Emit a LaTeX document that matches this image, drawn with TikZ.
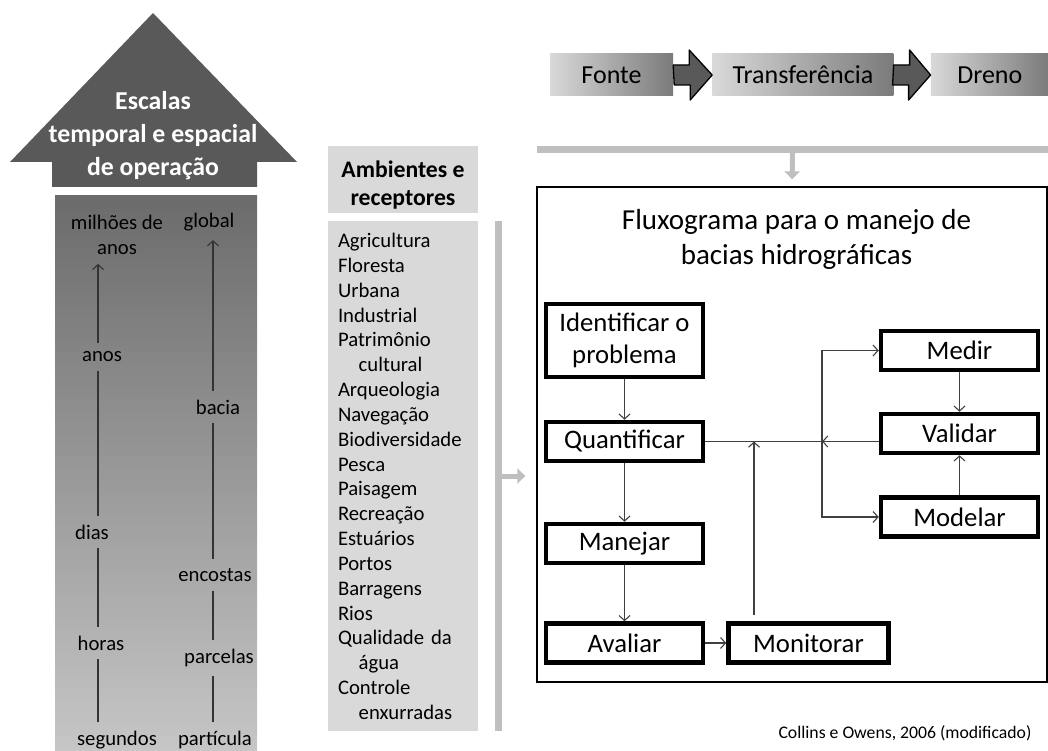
\documentclass[tikz,border=0pt]{standalone}
\usepackage{fontspec}
\setmainfont{Carlito}
\usepackage{tikz}
\usetikzlibrary{positioning}
\usetikzlibrary{calc,arrows.meta}
\definecolor{bargray}{HTML}{BFBFBF}
\definecolor{boxgray}{HTML}{D9D9D9}
\definecolor{darkfill}{HTML}{595959}
\definecolor{coltop}{HTML}{6B6B6B}
\definecolor{colbot}{HTML}{C6C6C6}
\tikzset{
  proc/.style = {draw, line width=4.5pt, minimum width=157pt, minimum height=39pt,
    inner sep=0pt, align=center, font=\fontsize{26.7}{32}\selectfont},
  link/.style = {draw=black!75, line width=1.1pt, -{Straight Barb[length=5pt,width=11pt]}},
  wire/.style = {draw=black!75, line width=1.1pt},
  lvl/.style = {inner xsep=2pt, inner ysep=9pt, align=center,
    font=\fontsize{20.7}{24.8}\selectfont},
  rung/.style = {draw=black!80, line width=1.1pt},
  flowbox/.style = {left color=boxgray, right color=black!52, minimum height=42pt,
    inner sep=0pt, font=\fontsize{26}{31}\selectfont},
  blockarrow/.style = {fill=darkfill, draw=black, line width=1.3pt, line join=round},
  grayarrow/.style = {draw=bargray, line width=5pt, -{Triangle[length=8pt,width=15pt]}},
}

\begin{document}
\begin{tikzpicture}[x=1pt, y=-1pt]
  \useasboundingbox (0,0) rectangle (1048,751);

  % scales column
  \shade[top color=coltop, bottom color=colbot] (55,196) rectangle (257,751);
  \fill[darkfill] (153,13) -- (297,162) -- (257,162) -- (257,187) -- (52,187)
    -- (52,162) -- (10,162) -- cycle;
  \node[text=white, align=center, font=\bfseries\fontsize{25.8}{33}\selectfont]
    (esc) at (153,136) {Escalas\\temporal e espacial\\de operação};

  \coordinate (cl) at (98,0);
  \coordinate (cr) at (213,0);
  \node[lvl] (M)  at (117,235) {milhões de\\anos};
  \node[lvl] (A)  at (102,357) {anos};
  \node[lvl] (Di) at (92,532) {dias};
  \node[lvl] (H)  at (101,643) {horas};
  \node[lvl] (Se) at (117,740) {segundos};
  \node[lvl] (G)  at (209,222) {global};
  \node[lvl] (B)  at (218,407) {bacia};
  \node[lvl] (E)  at (215,575) {encostas};
  \node[lvl] (P)  at (219,658) {parcelas};
  \node[lvl] (Pa) at (215,740) {partícula};
  \draw[rung, -{Straight Barb[length=5pt,width=11pt]}] (A.north -| cl) -- (M.south -| cl);
  \draw[rung] (A.south -| cl) -- (Di.north -| cl);
  \draw[rung] (Di.south -| cl) -- (H.north -| cl);
  \draw[rung] (H.south -| cl) -- (Se.north -| cl);
  \draw[rung, -{Straight Barb[length=5pt,width=11pt]}] (B.north -| cr) -- (G.south -| cr);
  \draw[rung] (B.south -| cr) -- (E.north -| cr);
  \draw[rung] (E.south -| cr) -- (P.north -| cr);
  \draw[rung] (P.south -| cr) -- (Pa.north -| cr);

  % environments and receptors
  \node[fill=boxgray, minimum width=150pt, minimum height=67pt] (R) at (403,179.5) {};
  \node[align=center, font=\bfseries\fontsize{23.7}{28}\selectfont] (Rt) at (403,185)
    {Ambientes e\\receptores};
  \node[fill=boxgray, below=8pt of R, text width=130pt, inner xsep=10pt, inner ysep=0pt,
    minimum height=510pt, align=left, font=\fontsize{20.7}{24.84}\selectfont] (L)
    {Agricultura\\Floresta\\Urbana\\Industrial\\Patrimônio\\\hspace*{1em}cultural\\
     Arqueologia\\Navegação\\Biodiversidade\\Pesca\\Paisagem\\Recreação\\Estuários\\
     Portos\\Barragens\\Rios\\Qualidade da\\\hspace*{1em}água\\Controle\\\hspace*{1em}enxurradas};
  \node[fill=bargray, minimum width=7pt, minimum height=510pt, inner sep=0pt] (vbar) at (498.5,476) {};

  % source - transfer - sink
  \node[flowbox, minimum width=123pt] (fonte) at (611.5,75) {Fonte};
  \node[flowbox, minimum width=181pt, right=39pt of fonte] (transf) {Transferência};
  \node[flowbox, minimum width=118pt, right=37pt of transf] (dreno) {Dreno};
  \foreach \a/\b in {fonte/transf, transf/dreno}
    \draw[blockarrow] ($(\a.east)+(0,-10)$) -- ++(16,0) -- ++(0,-15) -- (\b.west)
      -- ++(-22,25) -- ++(0,-15) -- ++(-16,0) -- cycle;
  \node[fill=bargray, minimum width=511pt, minimum height=7pt, inner sep=0pt] (hbar) at (792.5,149.5) {};

  % flowchart frame
  \node[draw, line width=1.3pt, minimum width=510pt, minimum height=495pt, inner sep=0pt]
    (frame) at (792,434.5) {};
  \draw[grayarrow, shorten >=7pt] (hbar.south) -- (frame.north);
  \draw[grayarrow, shorten >=11pt] (vbar.east) -- (vbar.east -| frame.west);
  \node[align=center, font=\fontsize{29}{35}\selectfont] (T) at (796.5,239.5)
    {Fluxograma para o manejo de\\bacias hidrográficas};

  \node[proc, minimum height=73pt] (ident) at (624.5,340.5) {Identificar o\\problema};
  \node[proc] (quant)   at (624.5,441.5) {Quantificar};
  \node[proc] (manejar) at (624.5,543.5) {Manejar};
  \node[proc] (avaliar) at (624.5,643) {Avaliar};
  \node[proc, minimum width=160pt] (monit) at (808.5,643) {Monitorar};
  \node[proc] (medir)   at (959.5,350.5) {Medir};
  \node[proc] (validar) at (959.5,433.5) {Validar};
  \node[proc] (modelar) at (959.5,517) {Modelar};

  \coordinate (jn) at (822,441.5);
  \coordinate (mq) at (754,441.5);
  \draw[link] (ident) -- (quant);
  \draw[link] (quant) -- (manejar);
  \draw[link] (manejar) -- (avaliar);
  \draw[link] (avaliar) -- (monit);
  \draw[wire] (quant.east) -- (jn);
  \draw[link] (validar.west |- jn) -- (jn);
  \draw[link] (jn) |- (medir.west);
  \draw[link] (jn) |- (modelar.west);
  \draw[link] (medir) -- (validar);
  \draw[link] (modelar) -- (validar);
  \draw[link, shorten <=6pt] (monit.north -| mq) -- (mq);

  \node[anchor=east, font=\fontsize{17.7}{21}\selectfont] (src) at (1035,733)
    {Collins e Owens, 2006 (modificado)};
\end{tikzpicture}
\end{document}
